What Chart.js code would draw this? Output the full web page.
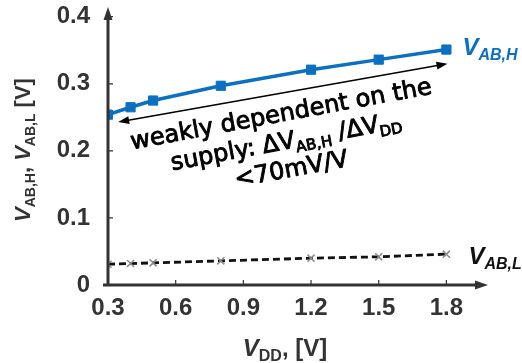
<!DOCTYPE html>
<html>
<head>
<meta charset="utf-8">
<script src="https://cdn.jsdelivr.net/npm/chart.js@4"></script>
<style>
  body { margin: 0; background: #fff; }
  canvas { display: block; }
</style>
</head>
<body>
<canvas id="chart" width="522" height="363"></canvas>
<script>
// valores
const vdd = [0.3, 0.4, 0.5, 0.8, 1.2, 1.5, 1.8];
const vabH = [0.254, 0.265, 0.275, 0.297, 0.321, 0.336, 0.351];
const vabL = [0.031, 0.032, 0.033, 0.036, 0.040, 0.042, 0.046];
const xTicks = [0.3, 0.6, 0.9, 1.2, 1.5, 1.8];
const yTicks = [0, 0.1, 0.2, 0.3, 0.4];

const blue = '#0b70c2';
const dark = '#333333';
const axisFont = "'Liberation Sans', Arial, sans-serif";
const noteFont = "'DejaVu Sans', Verdana, sans-serif";

// desenha texto com subscritos, parts = [{t, size, italic, sub}]
function drawRich(ctx, parts, x, y, align, family, weight, outline) {
  const fontOf = p => (p.italic ? 'italic ' : '') + weight + ' ' + p.size + 'px ' + family;
  let w = 0;
  parts.forEach(p => { ctx.font = fontOf(p); w += ctx.measureText(p.t).width; });
  let cx = align === 'center' ? x - w / 2 : x;
  ctx.textAlign = 'left';
  ctx.textBaseline = 'alphabetic';
  parts.forEach(p => {
    ctx.font = fontOf(p);
    ctx.fillText(p.t, cx, y + (p.sub ? p.sub : 0));
    if (outline) {
      ctx.lineWidth = outline;
      ctx.strokeText(p.t, cx, y + (p.sub ? p.sub : 0));
    }
    cx += ctx.measureText(p.t).width;
  });
}

function arrowHead(ctx, x, y, ang, len, half) {
  ctx.save();
  ctx.translate(x, y);
  ctx.rotate(ang);
  ctx.beginPath();
  ctx.moveTo(0, 0);
  ctx.lineTo(-len, -half);
  ctx.lineTo(-len, half);
  ctx.closePath();
  ctx.fill();
  ctx.restore();
}

const decor = {
  id: 'decor',
  afterDraw(chart) {
    const ctx = chart.ctx;
    const xs = chart.scales.x, ys = chart.scales.y;
    const x0 = xs.getPixelForValue(0.3), y0 = ys.getPixelForValue(0);
    const area = chart.chartArea;
    ctx.save();
    // eixos com setas
    ctx.strokeStyle = dark;
    ctx.fillStyle = dark;
    ctx.lineWidth = 3;
    ctx.beginPath();
    ctx.moveTo(x0, y0 + 1);
    ctx.lineTo(x0, area.top + 4);
    ctx.moveTo(x0 - 5, y0);
    ctx.lineTo(area.right - 8, y0);
    ctx.stroke();
    arrowHead(ctx, x0, area.top - 3, -Math.PI / 2, 13, 4.5);
    arrowHead(ctx, area.right + 1, y0, 0, 13, 4.5);
    // marcas
    ctx.lineWidth = 1.2;
    ctx.beginPath();
    yTicks.slice(1).forEach(v => {
      const p = ys.getPixelForValue(v);
      ctx.moveTo(x0, p); ctx.lineTo(x0 + 5, p);
    });
    xTicks.slice(1).forEach(v => {
      const p = xs.getPixelForValue(v);
      ctx.moveTo(p, y0); ctx.lineTo(p, y0 - 5);
    });
    ctx.stroke();

    // titulos dos eixos
    ctx.fillStyle = dark;
    drawRich(ctx, [
      { t: 'V', size: 24, italic: true },
      { t: 'DD', size: 16, sub: 5 },
      { t: ', [V]', size: 24 }
    ], 285, 356, 'center', axisFont, 'bold');
    ctx.save();
    ctx.translate(30, 150);
    ctx.rotate(-Math.PI / 2);
    drawRich(ctx, [
      { t: 'V', size: 22, italic: true },
      { t: 'AB,H', size: 14, sub: 5 },
      { t: ', ', size: 22 },
      { t: 'V', size: 22, italic: true },
      { t: 'AB,L', size: 14, sub: 5 },
      { t: ' [V]', size: 22 }
    ], 0, 0, 'center', axisFont, 'bold');
    ctx.restore();

    // rotulos das series
    const hx = xs.getPixelForValue(vdd[vdd.length - 1]);
    const hy = ys.getPixelForValue(vabH[vabH.length - 1]);
    const ly = ys.getPixelForValue(vabL[vabL.length - 1]);
    ctx.fillStyle = blue;
    drawRich(ctx, [
      { t: 'V', size: 24, italic: true },
      { t: 'AB,H', size: 16, italic: true, sub: 5 }
    ], hx + 16, hy + 5, 'left', axisFont, 'bold');
    ctx.fillStyle = '#111';
    drawRich(ctx, [
      { t: 'V', size: 24, italic: true },
      { t: 'AB,L', size: 16, italic: true, sub: 5 }
    ], hx + 22, ly + 10, 'left', axisFont, 'bold');

    // seta dupla da anotacao
    const ax1 = xs.getPixelForValue(0.345), ay1 = ys.getPixelForValue(0.243);
    const ax2 = xs.getPixelForValue(1.805), ay2 = ys.getPixelForValue(0.330);
    const ang = Math.atan2(ay2 - ay1, ax2 - ax1);
    ctx.strokeStyle = '#000';
    ctx.fillStyle = '#000';
    ctx.lineWidth = 1.5;
    ctx.beginPath();
    ctx.moveTo(ax1 + 6 * Math.cos(ang), ay1 + 6 * Math.sin(ang));
    ctx.lineTo(ax2 - 6 * Math.cos(ang), ay2 - 6 * Math.sin(ang));
    ctx.stroke();
    arrowHead(ctx, ax2, ay2, ang, 11, 4);
    arrowHead(ctx, ax1, ay1, ang + Math.PI, 11, 4);

    // texto da anotacao
    ctx.save();
    ctx.translate(286, 141);
    ctx.rotate(-10.5 * Math.PI / 180);
    ctx.fillStyle = '#000';
    ctx.strokeStyle = '#000';
    ctx.lineJoin = 'round';
    drawRich(ctx, [{ t: 'weakly dependent on the', size: 24 }], 0, -20, 'center', noteFont, 'normal', 0.9);
    drawRich(ctx, [
      { t: 'supply: ΔV', size: 24 },
      { t: 'AB,H', size: 15, sub: 5 },
      { t: ' /ΔV', size: 24 },
      { t: 'DD', size: 15, sub: 5 }
    ], 0, 8, 'center', noteFont, 'normal', 0.9);
    drawRich(ctx, [{ t: '<70mV/V', size: 24 }], 0, 36, 'center', noteFont, 'normal', 0.9);
    ctx.restore();

    ctx.restore();
  }
};

new Chart(document.getElementById('chart'), {
  type: 'line',
  data: {
    datasets: [
      {
        label: 'VAB,H',
        data: vdd.map((v, i) => ({ x: v, y: vabH[i] })),
        borderColor: blue,
        backgroundColor: blue,
        borderWidth: 3.5,
        pointStyle: 'rect',
        pointRadius: 6.5,
        pointBorderWidth: 1,
        tension: 0
      },
      {
        label: 'VAB,L',
        data: vdd.map((v, i) => ({ x: v, y: vabL[i] })),
        borderColor: '#111',
        borderWidth: 2.8,
        borderDash: [7, 4],
        pointStyle: 'crossRot',
        pointRadius: 5,
        pointBorderColor: '#8a8a8a',
        pointBorderWidth: 1.5,
        tension: 0
      }
    ]
  },
  options: {
    responsive: false,
    animation: false,
    layout: { padding: { left: 0, right: 35, top: 10, bottom: 0 } },
    plugins: { legend: { display: false }, tooltip: { enabled: false } },
    scales: {
      x: {
        type: 'linear',
        min: 0.3,
        max: 1.98,
        afterBuildTicks: s => { s.ticks = xTicks.map(v => ({ value: v })); },
        afterFit: s => { s.height = 78; s.paddingLeft = 0; s.paddingRight = 0; },
        grid: { display: false, drawTicks: false },
        border: { display: false },
        ticks: {
          autoSkip: false,
          maxRotation: 0,
          padding: 9,
          color: dark,
          font: { family: axisFont, size: 24, weight: 'bold' },
          callback: v => v.toFixed(1)
        }
      },
      y: {
        min: 0,
        max: 0.41,
        afterBuildTicks: s => { s.ticks = yTicks.map(v => ({ value: v })); },
        afterFit: s => { s.width = 108; s.paddingTop = 0; s.paddingBottom = 0; },
        grid: { display: false, drawTicks: false },
        border: { display: false },
        ticks: {
          padding: 18,
          color: dark,
          font: { family: axisFont, size: 24, weight: 'bold' },
          callback: v => v === 0 ? '0' : v.toFixed(1)
        }
      }
    }
  },
  plugins: [decor]
});
</script>
</body>
</html>
